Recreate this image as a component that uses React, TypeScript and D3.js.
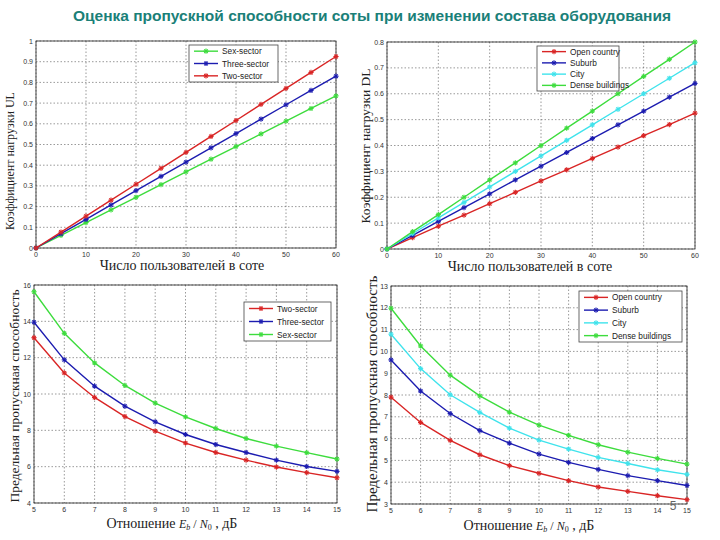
import React from "react";
import * as d3 from "d3";

const TITLE = "Оценка пропускной способности соты при изменении состава оборудования";

// Panel 1 (UL)
const usersX = [0, 5, 10, 15, 20, 25, 30, 35, 40, 45, 50, 55, 60];
const ulSex = [0, 0.061, 0.123, 0.184, 0.245, 0.306, 0.368, 0.429, 0.49, 0.551, 0.613, 0.674, 0.735];
const ulThree = [0, 0.069, 0.138, 0.208, 0.277, 0.346, 0.415, 0.484, 0.553, 0.623, 0.692, 0.761, 0.83];
const ulTwo = [0, 0.077, 0.154, 0.231, 0.308, 0.385, 0.462, 0.539, 0.616, 0.694, 0.771, 0.848, 0.925];
const ulYTicks = [0, 0.1, 0.2, 0.3, 0.4, 0.5, 0.6, 0.7, 0.8, 0.9, 1];
const usersXTicks = [0, 10, 20, 30, 40, 50, 60];

// Panel 2 (DL)
const dlOpen = [0, 0.044, 0.088, 0.131, 0.175, 0.219, 0.263, 0.306, 0.35, 0.394, 0.438, 0.481, 0.525];
const dlSuburb = [0, 0.053, 0.107, 0.16, 0.213, 0.267, 0.32, 0.373, 0.427, 0.48, 0.533, 0.587, 0.64];
const dlCity = [0, 0.06, 0.12, 0.18, 0.24, 0.3, 0.36, 0.42, 0.48, 0.54, 0.6, 0.66, 0.72];
const dlDense = [0, 0.067, 0.133, 0.2, 0.267, 0.333, 0.4, 0.467, 0.533, 0.6, 0.667, 0.733, 0.8];
const dlYTicks = [0, 0.1, 0.2, 0.3, 0.4, 0.5, 0.6, 0.7, 0.8];

// Panel 3 (capacity vs sectors)
const ebX = [5, 6, 7, 8, 9, 10, 11, 12, 13, 14, 15];
const capTwo = [13.1, 11.16, 9.81, 8.76, 7.96, 7.3, 6.78, 6.36, 5.98, 5.67, 5.39];
const capThree = [13.95, 11.88, 10.43, 9.33, 8.47, 7.77, 7.22, 6.78, 6.36, 6.01, 5.74];
const capSex = [15.63, 13.34, 11.71, 10.47, 9.5, 8.74, 8.1, 7.55, 7.13, 6.77, 6.42];
const capYTicks = [4, 6, 8, 10, 12, 14, 16];

// Panel 4 (capacity vs environment)
const envOpen = [7.9, 6.74, 5.92, 5.26, 4.76, 4.41, 4.07, 3.78, 3.58, 3.38, 3.2];
const envSuburb = [9.61, 8.18, 7.15, 6.37, 5.79, 5.29, 4.91, 4.59, 4.3, 4.07, 3.85];
const envCity = [10.79, 9.21, 8.01, 7.2, 6.48, 5.93, 5.52, 5.14, 4.86, 4.57, 4.36];
const envDense = [11.98, 10.25, 8.91, 7.96, 7.21, 6.62, 6.15, 5.72, 5.38, 5.09, 4.83];
const envYTicks = [3, 4, 5, 6, 7, 8, 9, 10, 11, 12, 13];

const RED = "#d92525";
const BLUE = "#1c1cb0";
const GREEN = "#3ddc3d";
const CYAN = "#3fe3ec";

type Series = { name: string; values: number[]; color: string };

type PanelProps = {
  box: [number, number, number, number];
  xs: number[];
  xDomain: [number, number];
  yDomain: [number, number];
  xTicks: number[];
  yTicks: number[];
  series: Series[];
  legendOrder: Series[];
  legendBox: [number, number, number, number];
  yLabel: string;
  yLabelPos: [number, number];
  yLabelSize: number;
  xLabel: React.ReactNode;
  xLabelPos: [number, number];
};

function Star({ x, y, color }: { x: number; y: number; color: string }) {
  const r = 2.6;
  return (
    <g stroke={color} strokeWidth={1.1}>
      <line x1={x - r} y1={y} x2={x + r} y2={y} />
      <line x1={x} y1={y - r} x2={x} y2={y + r} />
      <line x1={x - r * 0.7} y1={y - r * 0.7} x2={x + r * 0.7} y2={y + r * 0.7} />
      <line x1={x - r * 0.7} y1={y + r * 0.7} x2={x + r * 0.7} y2={y - r * 0.7} />
    </g>
  );
}

function Panel(p: PanelProps) {
  const [x0, y0, x1, y1] = p.box;
  const xS = d3.scaleLinear().domain(p.xDomain).range([x0, x1]);
  const yS = d3.scaleLinear().domain(p.yDomain).range([y1, y0]);
  const line = d3
    .line<[number, number]>()
    .x((d) => xS(d[0]))
    .y((d) => yS(d[1]));
  const [lx0, ly0, lx1, ly1] = p.legendBox;
  const rowH = (ly1 - ly0) / p.legendOrder.length;
  return (
    <g>
      <rect x={x0} y={y0} width={x1 - x0} height={y1 - y0} fill="white" />
      {p.xTicks.map((t) => (
        <line key={"gx" + t} x1={xS(t)} x2={xS(t)} y1={y0} y2={y1} stroke="#555" strokeWidth={0.6} strokeDasharray="1.5,2" />
      ))}
      {p.yTicks.map((t) => (
        <line key={"gy" + t} x1={x0} x2={x1} y1={yS(t)} y2={yS(t)} stroke="#555" strokeWidth={0.6} strokeDasharray="1.5,2" />
      ))}
      <rect x={x0} y={y0} width={x1 - x0} height={y1 - y0} fill="none" stroke="#222" strokeWidth={0.8} />
      {p.xTicks.map((t) => (
        <text key={"tx" + t} x={xS(t)} y={y1 + 9} fontSize={7} fontFamily="Liberation Sans, Arial" fill="#333" textAnchor="middle">
          {t}
        </text>
      ))}
      {p.yTicks.map((t) => (
        <text key={"ty" + t} x={x0 - 3} y={yS(t) + 2.5} fontSize={7} fontFamily="Liberation Sans, Arial" fill="#333" textAnchor="end">
          {t}
        </text>
      ))}
      {p.series.map((s) => (
        <g key={s.name}>
          <path d={line(p.xs.map((x, i) => [x, s.values[i]] as [number, number])) || ""} fill="none" stroke={s.color} strokeWidth={1.4} />
          {p.xs.map((x, i) => (
            <Star key={i} x={xS(x)} y={yS(s.values[i])} color={s.color} />
          ))}
        </g>
      ))}
      <rect x={lx0} y={ly0} width={lx1 - lx0} height={ly1 - ly0} fill="white" stroke="#444" strokeWidth={0.8} />
      {p.legendOrder.map((s, i) => {
        const cy = ly0 + rowH * (i + 0.5);
        return (
          <g key={"lg" + s.name}>
            <line x1={lx0 + 5} x2={lx0 + 29} y1={cy} y2={cy} stroke={s.color} strokeWidth={1.4} />
            <Star x={lx0 + 17} y={cy} color={s.color} />
            <text x={lx0 + 33} y={cy + 3} fontSize={8.3} fontFamily="Liberation Sans, Arial" fill="#222">
              {s.name}
            </text>
          </g>
        );
      })}
      <text
        x={p.yLabelPos[0]}
        y={p.yLabelPos[1]}
        transform={`rotate(-90 ${p.yLabelPos[0]} ${p.yLabelPos[1]})`}
        fontSize={p.yLabelSize}
        fontFamily="Liberation Serif, Times New Roman"
        fill="#222"
        textAnchor="middle"
      >
        {p.yLabel}
      </text>
      <text x={p.xLabelPos[0]} y={p.xLabelPos[1]} fontSize={14} fontFamily="Liberation Serif, Times New Roman" fill="#222" textAnchor="middle">
        {p.xLabel}
      </text>
    </g>
  );
}

const ebLabel = (
  <>
    Отношение{" "}
    <tspan fontStyle="italic" fontSize={12}>E</tspan>
    <tspan fontSize={8} dy={2} fontStyle="italic">b</tspan>
    <tspan dy={-2} fontSize={12}> / </tspan>
    <tspan fontStyle="italic" fontSize={12}>N</tspan>
    <tspan fontSize={8} dy={2}>0</tspan>
    <tspan dy={-2}> , дБ</tspan>
  </>
);

export default function App() {
  const sUlSex = { name: "Sex-sector", values: ulSex, color: GREEN };
  const sUlThree = { name: "Three-sector", values: ulThree, color: BLUE };
  const sUlTwo = { name: "Two-sector", values: ulTwo, color: RED };

  const sDlOpen = { name: "Open country", values: dlOpen, color: RED };
  const sDlSuburb = { name: "Suburb", values: dlSuburb, color: BLUE };
  const sDlCity = { name: "City", values: dlCity, color: CYAN };
  const sDlDense = { name: "Dense buildings", values: dlDense, color: GREEN };

  const sCapTwo = { name: "Two-sector", values: capTwo, color: RED };
  const sCapThree = { name: "Three-sector", values: capThree, color: BLUE };
  const sCapSex = { name: "Sex-sector", values: capSex, color: GREEN };

  const sEnvOpen = { name: "Open country", values: envOpen, color: RED };
  const sEnvSuburb = { name: "Suburb", values: envSuburb, color: BLUE };
  const sEnvCity = { name: "City", values: envCity, color: CYAN };
  const sEnvDense = { name: "Dense buildings", values: envDense, color: GREEN };

  return (
    <svg width={720} height={540} style={{ position: "absolute", left: 0, top: 0, background: "white" }}>
      <rect x={0} y={0} width={720} height={540} fill="white" />
      <text x={372} y={21} fontSize={15.5} fontWeight="bold" fontFamily="Liberation Sans, Arial" fill="#1a8078" textAnchor="middle">
        {TITLE}
      </text>
      <Panel
        box={[36, 41, 336, 248]}
        xs={usersX}
        xDomain={[0, 60]}
        yDomain={[0, 1]}
        xTicks={usersXTicks}
        yTicks={ulYTicks}
        series={[sUlSex, sUlThree, sUlTwo]}
        legendOrder={[sUlSex, sUlThree, sUlTwo]}
        legendBox={[189, 45, 278, 82]}
        yLabel="Коэффициент нагрузки UL"
        yLabelPos={[14, 161]}
        yLabelSize={12}
        xLabel="Число пользователей в соте"
        xLabelPos={[182, 270]}
      />
      <Panel
        box={[387, 42, 695, 249]}
        xs={usersX}
        xDomain={[0, 60]}
        yDomain={[0, 0.8]}
        xTicks={usersXTicks}
        yTicks={dlYTicks}
        series={[sDlOpen, sDlSuburb, sDlCity, sDlDense]}
        legendOrder={[sDlOpen, sDlSuburb, sDlCity, sDlDense]}
        legendBox={[537, 46, 619, 91]}
        yLabel="Коэффициент нагрузки DL"
        yLabelPos={[370, 146]}
        yLabelSize={13.5}
        xLabel="Число пользователей в соте"
        xLabelPos={[530, 271]}
      />
      <Panel
        box={[34, 285, 337, 503]}
        xs={ebX}
        xDomain={[5, 15]}
        yDomain={[4, 16]}
        xTicks={ebX}
        yTicks={capYTicks}
        series={[sCapTwo, sCapThree, sCapSex]}
        legendOrder={[sCapTwo, sCapThree, sCapSex]}
        legendBox={[244, 302, 331, 341]}
        yLabel="Предельная пропускная способность"
        yLabelPos={[19, 396]}
        yLabelSize={13.5}
        xLabel={ebLabel}
        xLabelPos={[172, 528]}
      />
      <Panel
        box={[391, 286, 687, 504]}
        xs={ebX}
        xDomain={[5, 15]}
        yDomain={[3, 13]}
        xTicks={ebX}
        yTicks={envYTicks}
        series={[sEnvOpen, sEnvSuburb, sEnvCity, sEnvDense]}
        legendOrder={[sEnvOpen, sEnvSuburb, sEnvCity, sEnvDense]}
        legendBox={[579, 291, 682, 342]}
        yLabel="Предельная пропускная способность"
        yLabelPos={[377, 394]}
        yLabelSize={15}
        xLabel={ebLabel}
        xLabelPos={[529, 530]}
      />
      <text x={673} y={510} fontSize={12} fill="#666" fontFamily="Liberation Sans, Arial" textAnchor="middle">5</text>
    </svg>
  );
}
